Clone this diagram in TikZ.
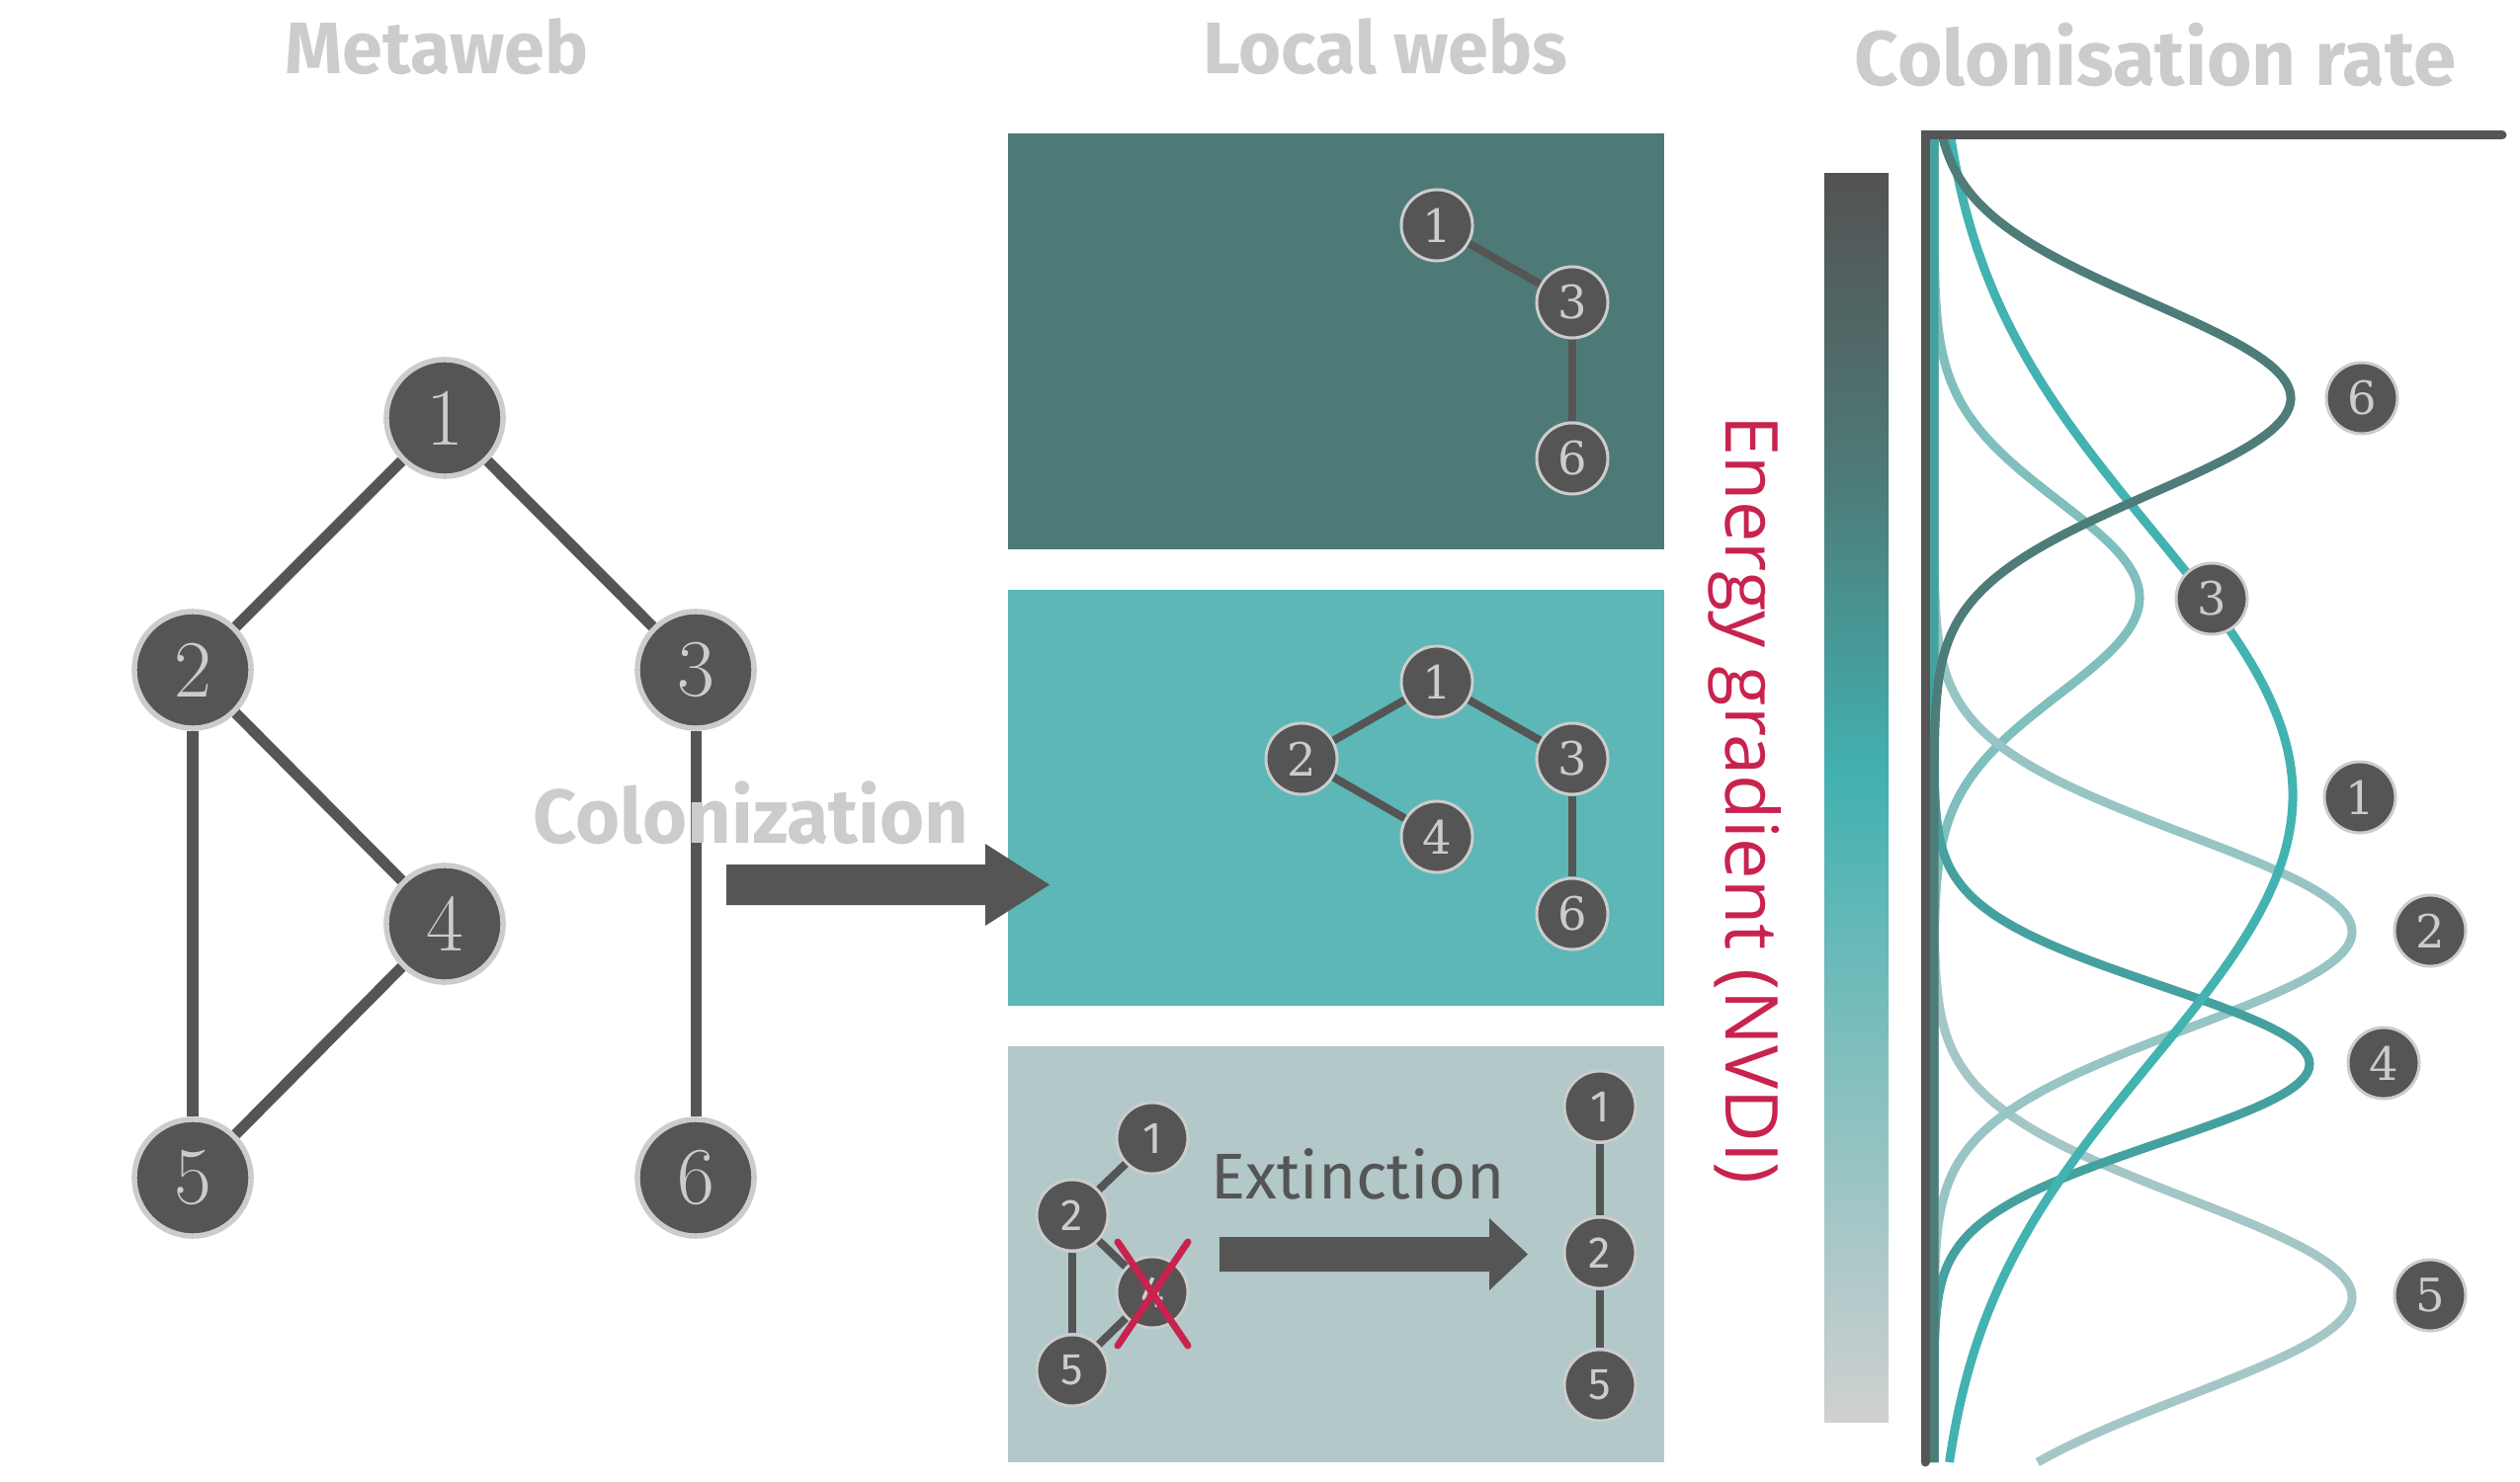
\documentclass[tikz,border=0pt]{standalone}
\usepackage{fontspec}
\usetikzlibrary{calc}
\newfontfamily\firafont{Fira Sans}
\newfontfamily\opensans{Open Sans}
\newfontfamily\djserif{DejaVu Serif}
\definecolor{cdark}{HTML}{555555}
\definecolor{clight}{HTML}{CCCCCC}
\definecolor{crimson}{HTML}{C8234E}
\definecolor{pone}{HTML}{4D7A77}
\definecolor{ptwo}{HTML}{5CB7B6}
\definecolor{pthree}{HTML}{B2C8C9}
\definecolor{kA}{HTML}{4E7C79}
\definecolor{kB}{HTML}{7FBFBD}
\definecolor{kC}{HTML}{42B3B1}
\definecolor{kD}{HTML}{97C4C4}
\definecolor{kE}{HTML}{45A19F}
\definecolor{kF}{HTML}{A5C6C6}
\definecolor{gtop}{HTML}{535353}
\definecolor{gmid}{HTML}{42B1B0}
\definecolor{gbot}{HTML}{D0D0D0}
\pgfdeclareverticalshading{nvdi}{100bp}{color(0bp)=(gbot); color(25bp)=(gbot); color(51bp)=(gmid); color(63bp)=(pone); color(75bp)=(gtop); color(100bp)=(gtop)}
\tikzset{
  mnode/.style={circle, fill=cdark, draw=clight, line width=0.055cm, minimum size=1.18cm, inner sep=0pt, text=clight, font=\fontsize{23.4pt}{24pt}\selectfont},
  pnode/.style={circle, fill=cdark, draw=clight, line width=0.03cm, minimum size=0.72cm, inner sep=0pt, text=clight, font=\djserif\fontsize{13.2pt}{15pt}\selectfont},
  qnode/.style={pnode, font=\firafont\fontsize{12.8pt}{13pt}\selectfont},
  medge/.style={draw=cdark, line width=0.11cm},
  pedge/.style={draw=cdark, line width=0.08cm},
  title/.style={text=clight, inner sep=0pt, anchor=base, font=\firafont\bfseries\fontsize{21pt}{24pt}\selectfont},
  curve/.style={line width=0.09cm},
  cross/.style={draw=crimson, line width=0.07cm, line cap=round},
}
\begin{document}
\begin{tikzpicture}[x=0.01cm, y=-0.01cm]
\useasboundingbox (0,0) rectangle (2550,1500);

% titles
\node[title] (tmeta) at (442,75) {Metaweb};
\node[title] (tlocal) at (1402,75) {Local webs};
\node[title, font=\firafont\bfseries\fontsize{22.2pt}{24pt}\selectfont] (trate) at (2181,87) {Colonisation rate};

% metaweb
\node[mnode] (m1) at (450,423) {1};
\node[mnode] (m2) at (195,678) {2};
\node[mnode] (m3) at (704,678) {3};
\node[mnode] (m4) at (450,935) {4};
\node[mnode] (m5) at (195,1192) {5};
\node[mnode] (m6) at (704,1192) {6};
\draw[medge] (m1) -- (m2);
\draw[medge] (m1) -- (m3);
\draw[medge] (m2) -- (m4);
\draw[medge] (m2) -- (m5);
\draw[medge] (m4) -- (m5);
\draw[medge] (m3) -- (m6);

% panels
\fill[pone] (1020,135) rectangle (1684,556);
\fill[ptwo] (1020,597) rectangle (1684,1018);
\fill[pthree] (1020,1059) rectangle (1684,1480);

% colonization
\node[title, font=\firafont\bfseries\fontsize{22pt}{24pt}\selectfont] (tcol) at (760,853) {Colonization};
\fill[cdark] (735,875) -- (997,875) -- (997,854) -- (1062,895.5) -- (997,937) -- (997,916) -- (735,916) -- cycle;

% panel 1
\node[pnode] (a1) at (1454,228) {1};
\node[pnode] (a3) at (1591,306) {3};
\node[pnode] (a6) at (1591,464) {6};
\draw[pedge] (a1) -- (a3);
\draw[pedge] (a3) -- (a6);

% panel 2
\node[pnode] (b1) at (1454,690) {1};
\node[pnode] (b2) at (1317,768) {2};
\node[pnode] (b3) at (1591,768) {3};
\node[pnode] (b4) at (1454,847) {4};
\node[pnode] (b6) at (1591,925) {6};
\draw[pedge] (b1) -- (b2);
\draw[pedge] (b1) -- (b3);
\draw[pedge] (b2) -- (b4);
\draw[pedge] (b3) -- (b6);

% panel 3
\node[qnode] (c1) at (1166,1152) {1};
\node[qnode] (c2) at (1085,1230) {2};
\node[qnode] (c4) at (1166,1308) {4};
\node[qnode] (c5) at (1085,1387) {5};
\draw[pedge] (c1) -- (c2);
\draw[pedge] (c2) -- (c4);
\draw[pedge] (c2) -- (c5);
\draw[pedge] (c5) -- (c4);
\draw[cross] ($(c4)+(-35,-51)$) -- ($(c4)+(36,54)$);
\draw[cross] ($(c4)+(36,-51)$) -- ($(c4)+(-35,54)$);
\node[text=cdark, inner sep=0pt, anchor=base, font=\firafont\fontsize{18.6pt}{20pt}\selectfont] (text) at (1374,1213) {Extinction};
\fill[cdark] (1234,1252) -- (1507,1252) -- (1507,1233) -- (1546,1269.5) -- (1507,1306) -- (1507,1287) -- (1234,1287) -- cycle;
\node[qnode] (d1) at (1619,1120) {1};
\node[qnode] (d2) at (1619,1268) {2};
\node[qnode] (d5) at (1619,1402) {5};
\draw[pedge] (d1) -- (d2);
\draw[pedge] (d2) -- (d5);

% gradient bar and label
\shade[shading=nvdi] (1846,176) rectangle (1911,1439);
\node[rotate=-90, anchor=base west, inner sep=0pt, text=crimson, font=\opensans\fontsize{21pt}{22pt}\selectfont] (energy) at (1746,420) {Energy gradient (NVDI)};

% curves
\draw[curve, kB] plot[domain=140:1480, samples=300, variable=\t] ({1957+208*exp(-0.5*((\t-605)/98)^2)}, {\t});
\draw[curve, kF] plot[domain=140:1480, samples=300, variable=\t] ({1957+423*exp(-0.5*((\t-1313)/100)^2)}, {\t});
\draw[curve, kD] plot[domain=140:1480, samples=300, variable=\t] ({1957+423*exp(-0.5*((\t-943)/98)^2)}, {\t});
\draw[curve, kE] plot[domain=140:1480, samples=300, variable=\t] ({1957+380*exp(-0.5*((\t-1077)/79)^2)}, {\t});
\draw[curve, kC] plot[domain=140:1480, samples=300, variable=\t] ({1957+363*exp(-0.5*((\t-805)/269)^2)}, {\t});
\draw[curve, kA] plot[domain=140:1480, samples=300, variable=\t] ({1957+361*exp(-0.5*((\t-403)/97)^2)}, {\t});

% axes
\draw[cdark, line width=0.09cm, line cap=round] (2532,137) -- (1948,137) -- (1948,1480);

% curve labels
\node[pnode] (l6) at (2390,403) {6};
\node[pnode] (l3) at (2238,606) {3};
\node[pnode] (l1) at (2388,807) {1};
\node[pnode] (l2) at (2459,942) {2};
\node[pnode] (l4) at (2412,1076) {4};
\node[pnode] (l5) at (2459,1311) {5};
\end{tikzpicture}
\end{document}
